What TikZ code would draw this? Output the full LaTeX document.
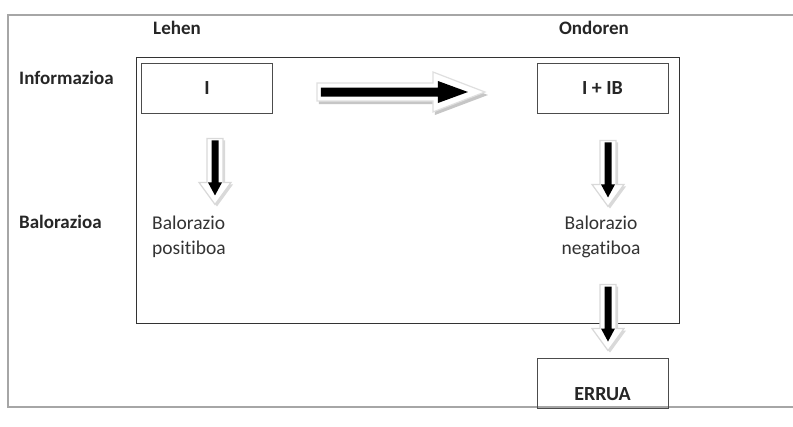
\documentclass[tikz,border=0pt]{standalone}
\usepackage{fontspec}
\setmainfont{Carlito}[Ligatures=NoCommon]
\usetikzlibrary{calc}
\begin{document}
\begin{tikzpicture}[x=1pt,y=-1pt,
  lbl/.style={font=\bfseries\fontsize{19}{21}\selectfont, text=black!85, inner sep=0},
  txt/.style={font=\fontsize{19.5}{25}\selectfont, text=black!80, inner sep=0},
  box/.style={draw=black!70, line width=0.9pt, minimum width=131pt, minimum height=50pt, inner sep=0, font=\bfseries\fontsize{20}{22}\selectfont, text=black!85},
  pics/downarr/.style={code={
    \fill[gray!30] (-6,2) -- (-6,#1-20) -- (-14,#1-20) -- (2,#1+2) -- (18,#1-20) -- (10,#1-20) -- (10,2) -- cycle;
    \draw[gray!30, fill=white, line width=1.2pt] (-8,0) -- (-8,#1-22) -- (-16,#1-22) -- (0,#1) -- (16,#1-22) -- (8,#1-22) -- (8,0) -- cycle;
    \fill[black] (-3.5,2) -- (-3.5,#1-22) -- (-7,#1-22) -- (0,#1-9) -- (7,#1-22) -- (3.5,#1-22) -- (3.5,2) -- cycle;
  }},
  pics/rightarr/.style={code={
    \fill[gray!45] (2,-6) -- (#1-50,-6) -- (#1-50,-17) -- (#1+3,3) -- (#1-50,23) -- (#1-50,12) -- (2,12) -- cycle;
    \draw[gray!25, fill=white, line width=1.2pt] (0,-9) -- (#1-52,-9) -- (#1-52,-20) -- (#1,0) -- (#1-52,20) -- (#1-52,9) -- (0,9) -- cycle;
    \fill[black] (4,-4.5) -- (#1-47,-4.5) -- (#1-47,-11) -- (#1-17,0) -- (#1-47,11) -- (#1-47,4.5) -- (4,4.5) -- cycle;
  }}
]
\useasboundingbox (0,0) rectangle (793,426);
\fill[white] (0,0) rectangle (793,426);
% outer frame (open on the right)
\draw[gray!70, line width=1.5pt] (793,15) -- (8,15) -- (8,407) -- (793,407);
% inner frame
\draw[black!80, line width=0.8pt] (136,57) rectangle (679,323);

\node[lbl] (lehen) at (177,28) {Lehen};
\node[lbl] (ondoren) at (594,28) {Ondoren};
\node[lbl, anchor=west] (info) at (19,78) {Informazioa};
\node[lbl, anchor=west] (balo) at (19,222) {Balorazioa};

\node[box] (i) at (207,88) {I};
\node[box] (iib) at (602.5,88) {I + IB};
\node[box] (errua) at (602.5,383) {};
\node[box, draw=none, minimum width=0pt, minimum height=0pt] (erruatxt) at ($(errua.center)+(0,11)$) {ERRUA};

\node[txt, anchor=north west, align=left] (pos) at (152,216) {Balorazio\\positiboa};
\node[txt, anchor=north, align=center] (neg) at (601,216) {Balorazio\\negatiboa};

% block arrows, placed from the named nodes
\pic at ($(i.east)+(44,4)$) {rightarr=168};
\pic at ($(i.south)+(8,25)$) {downarr=66};
\pic at ($(iib.south)+(5.5,27)$) {downarr=66};
\pic at ($(errua.north)+(5.5,-73)$) {downarr=66};
\end{tikzpicture}
\end{document}
